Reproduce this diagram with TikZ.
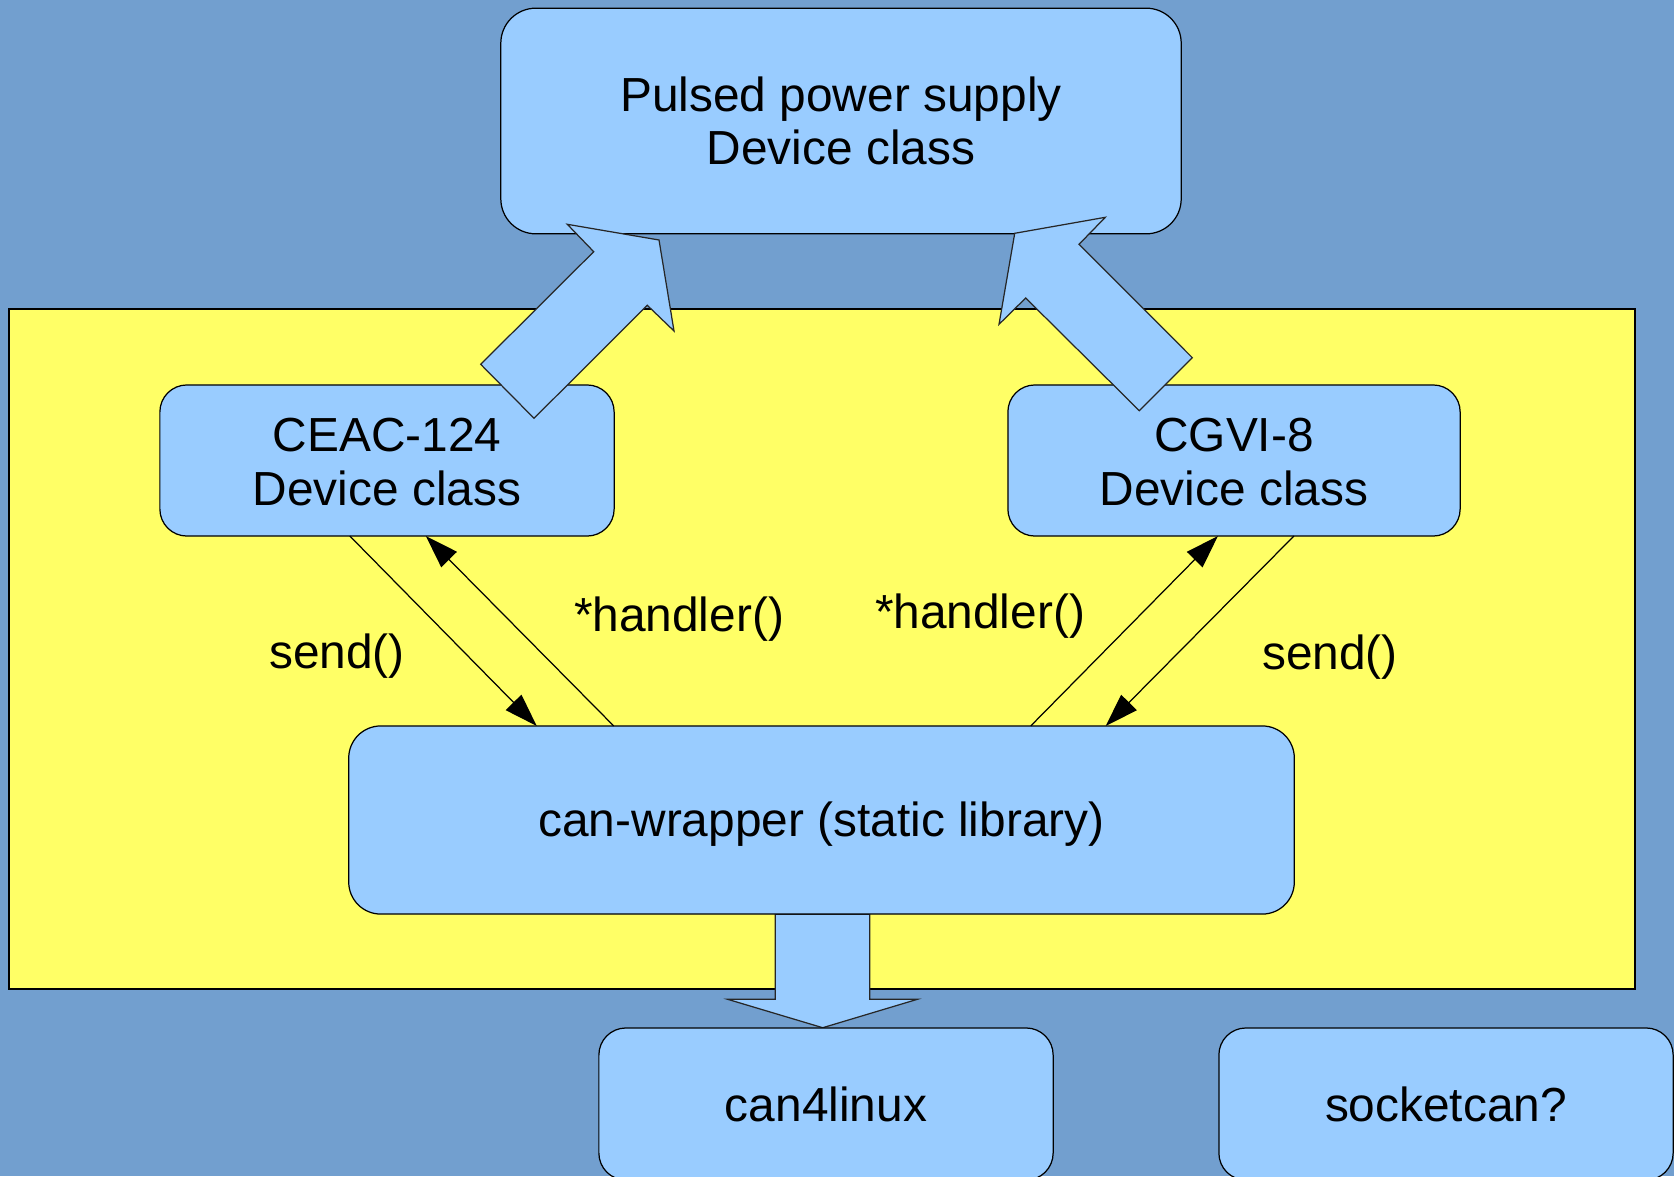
\documentclass[tikz,border=0pt]{standalone}
\usepackage{fontspec}
\setmainfont{Liberation Sans}
\usetikzlibrary{arrows.meta,calc}
\definecolor{bg}{HTML}{729FCF}
\definecolor{boxfill}{HTML}{99CCFF}
\definecolor{frame}{HTML}{FFFF66}

\begin{document}
\begin{tikzpicture}[x=0.01cm,y=-0.01cm,
  txt/.style={font=\fontsize{13.6pt}{15.3pt}\selectfont},
  block/.style={draw=black, line width=0.35pt, fill=boxfill, rounded corners=0.27cm,
                align=center, inner sep=0pt, outer sep=0pt, txt},
  fat arrow/.style={draw=black!85, line width=0.35pt, fill=boxfill, line join=miter},
  call/.style={draw=black, line width=0.35pt, -{Triangle[length=9.4pt,width=6.2pt]}},
  caption/.style={txt, inner sep=0pt}
]
\useasboundingbox (0,0) rectangle (1674,1176);
\clip (0,0) rectangle (1674,1176);

% background and the yellow process frame
\fill[bg] (0,0) rectangle (1674,1176);
\draw[fill=frame, line width=0.5pt] (9,309) rectangle (1635,989);

% wide arrow from the wrapper down to the driver
\draw[fat arrow] (775.3,914.3) -- (869.7,914.3) -- (869.7,999.3) -- (917.3,999.3)
  -- (822.7,1027.7) -- (727.7,999.3) -- (775.3,999.3) -- cycle;

% boxes
\node[block, minimum width=6.8cm, minimum height=2.255cm, rounded corners=0.35cm]
  (pps) at (841,121) {Pulsed power supply\\Device class};
\node[block, minimum width=4.54cm, minimum height=1.51cm] (ceac) at (387,460.5)
  {\raisebox{-0.5pt}[\height][\depth]{CEAC-124}\\\raisebox{-0.5pt}[\height][\depth]{Device class}};
\node[block, minimum width=4.52cm, minimum height=1.51cm] (cgvi) at (1234,460.5)
  {\raisebox{-0.5pt}[\height][\depth]{CGVI-8}\\\raisebox{-0.5pt}[\height][\depth]{Device class}};
\node[block, minimum width=9.45cm, minimum height=1.88cm, rounded corners=0.32cm]
  (wrap) at (821.5,820) {\raisebox{-1.1pt}[\height][\depth]{can-wrapper (static library)}};
\node[block, minimum width=4.54cm, minimum height=1.52cm] (c4l) at (826,1104) {can4linux};
\node[block, minimum width=4.54cm, minimum height=1.52cm] (sock) at (1446,1104) {socketcan?};

% calls between the device classes and the wrapper
\draw[call] ($(ceac.south west)+(190,0)$) -- ($(wrap.north west)+(188,0)$);
\draw[call] ($(wrap.north west)+(265,0)$) -- ($(ceac.south west)+(266,0)$);
\draw[call] ($(wrap.north west)+(682,0)$) -- ($(cgvi.south west)+(210,0)$);
\draw[call] ($(cgvi.south west)+(286,0)$) -- ($(wrap.north west)+(757,0)$);

\node[caption] (sendl) at (337,656) {send()};
\node[caption] (handl) at (679,619) {*handler()};
\node[caption] (handr) at (980,616) {*handler()};
\node[caption] (sendr) at (1330,657) {send()};

% wide arrows up to the power supply class
\draw[fat arrow] (567.3,224.3) -- (659,240) -- (674,331) -- (647.3,305.3)
  -- (534,418.3) -- (480.7,364.3) -- (593.7,251.7) -- cycle;
\draw[fat arrow] (1105.3,217.3) -- (1014.7,233.3) -- (999,324.3) -- (1025.7,298)
  -- (1139.3,410.7) -- (1192.3,357.7) -- (1079,244.3) -- cycle;
\end{tikzpicture}
\end{document}
